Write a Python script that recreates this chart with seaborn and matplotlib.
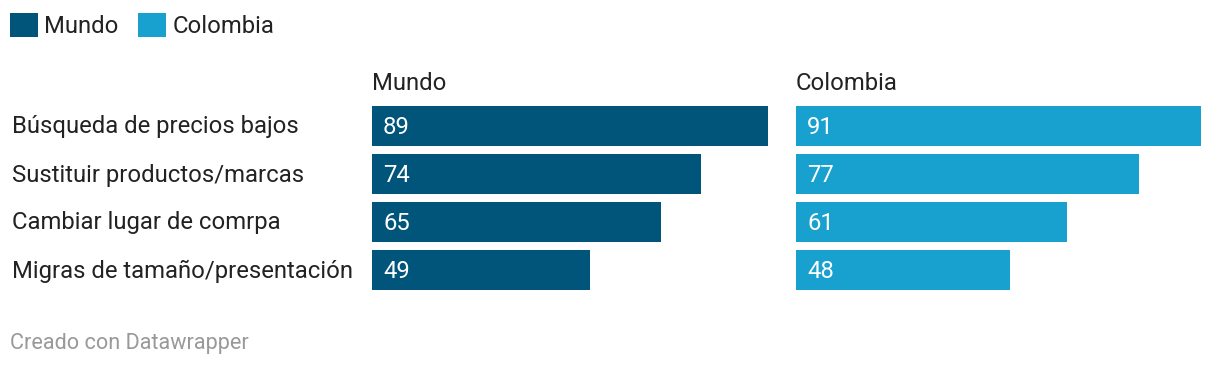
import matplotlib
matplotlib.use("Agg")
import matplotlib.pyplot as plt
import seaborn as sns
import pandas as pd
from matplotlib.patches import Patch

categories = ["Búsqueda de precios bajos", "Sustituir productos/marcas",
              "Cambiar lugar de comrpa", "Migras de tamaño/presentación"]
mundo = [89, 74, 65, 49]
colombia = [91, 77, 61, 48]
series_names = ["Mundo", "Colombia"]
colors = ["#01557b", "#18a1cf"]

sns.set_theme(style="white")
plt.rcParams['font.family'] = ['Roboto', 'DejaVu Sans']

FS = 17.2
W, H = 1220, 368
fig = plt.figure(figsize=(W / 100, H / 100), dpi=100)
fig.patch.set_facecolor("white")

df = pd.DataFrame({"cat": categories * 2,
                   "val": mundo + colombia,
                   "series": ["Mundo"] * 4 + ["Colombia"] * 4})

def px_axes(left, bottom, width, height):
    return fig.add_axes([left / W, bottom / H, width / W, height / H])

lefts = [372, 796]
for i, (name, col) in enumerate(zip(series_names, colors)):
    ax = px_axes(lefts[i], H - 294, 405, 192)
    sub = df[df.series == name]
    sns.barplot(data=sub, x="val", y="cat", orient="h", color=col,
                width=40 / 48, saturation=1, ax=ax, order=categories,
                linewidth=0, errorbar=None)
    ax.set_xlim(0, 91)
    ax.set_ylim(3.5, -0.5)
    ax.set_axis_off()
    for j, v in enumerate(sub.val):
        ax.text(11 / 4.45, j + 1 / 48, str(v), color="white", fontsize=FS,
                va="center", ha="left")
    fig.text(lefts[i] / W, 1 - 83 / H, name, fontsize=FS, color="#222222",
             va="center", ha="left")

for j, c in enumerate(categories):
    fig.text(12 / W, 1 - (127 + 48 * j) / H, c, fontsize=FS, color="#222222",
             va="center", ha="left")

handles = [Patch(facecolor=c, edgecolor="none") for c in colors]
fig.legend(handles, series_names, loc="upper left",
           bbox_to_anchor=(10 / W, 1 - 13 / H), ncol=2, frameon=False,
           borderpad=0, borderaxespad=0,
           fontsize=FS, handlelength=1.17, handleheight=1.2,
           handletextpad=0.25, columnspacing=0.84, labelcolor="#222222")

fig.text(10 / W, 1 - 343 / H, "Creado con Datawrapper", fontsize=15.6,
         color="#999999", va="center", ha="left")

fig.savefig("out.png", dpi=100)
